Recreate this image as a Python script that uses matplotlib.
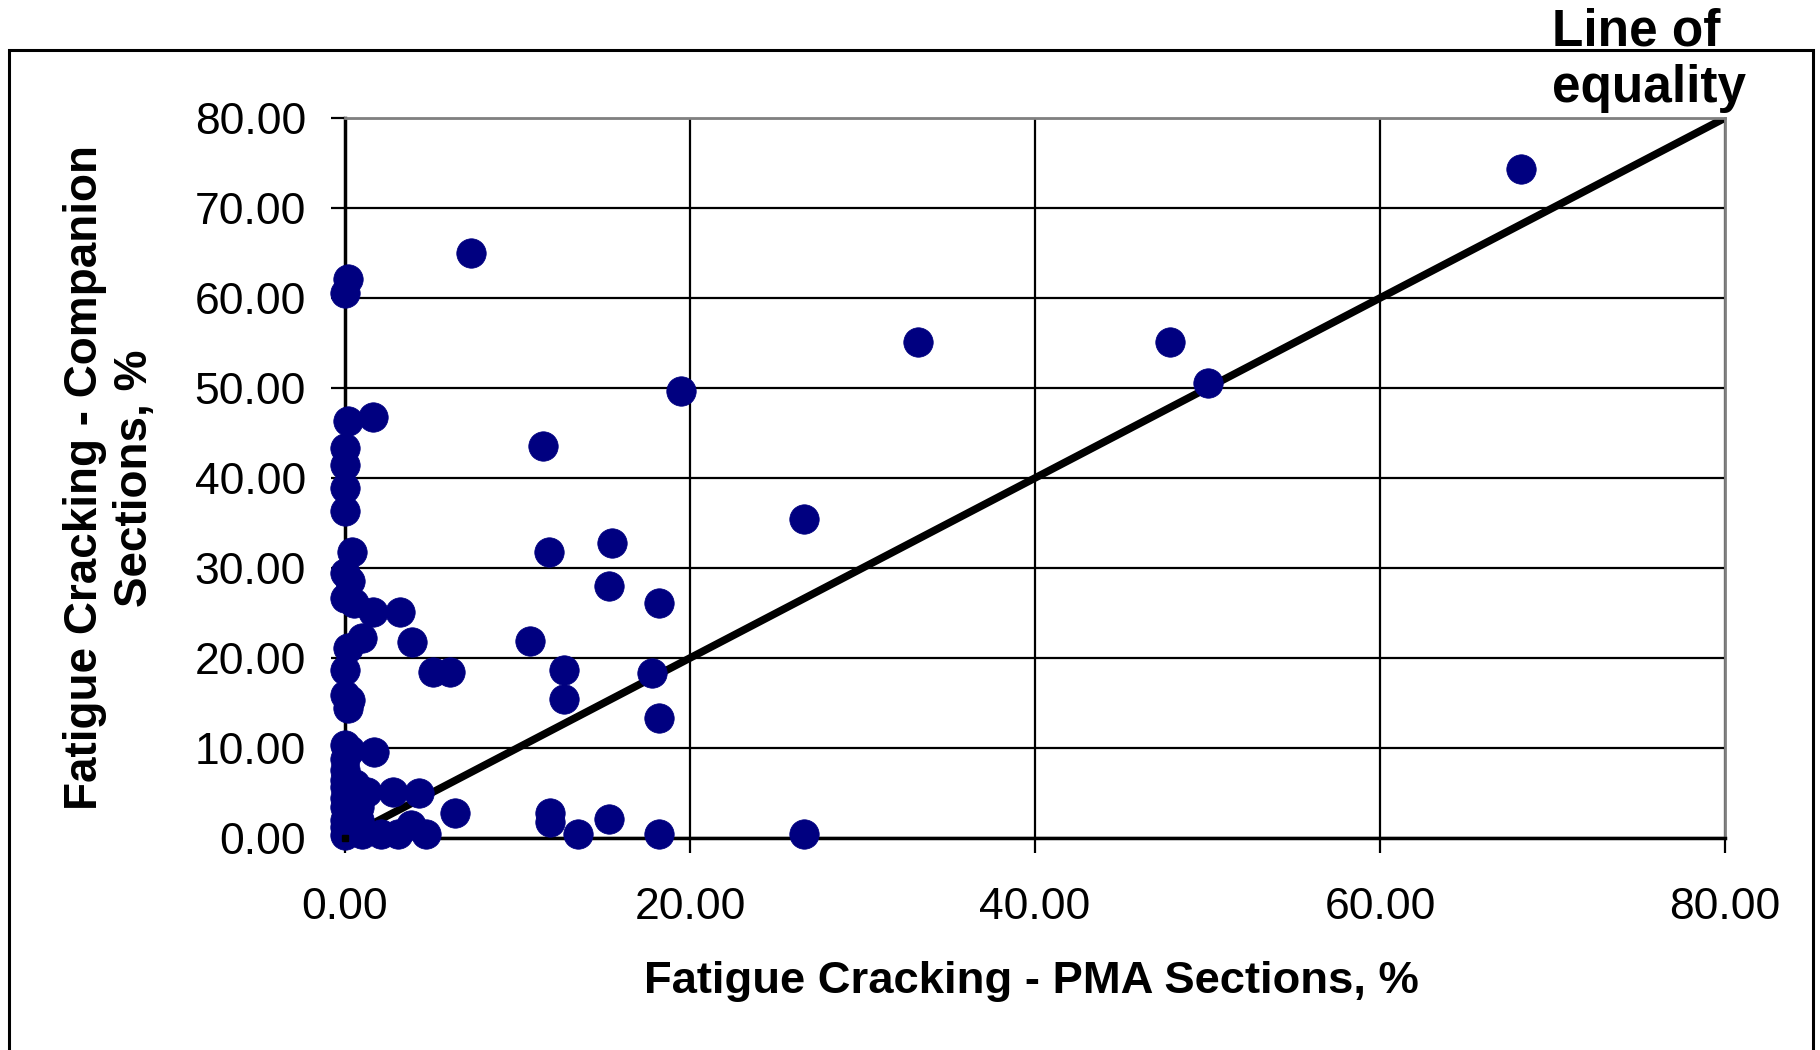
import matplotlib
matplotlib.use("Agg")
import matplotlib.pyplot as plt
from matplotlib.patches import Rectangle

plt.rcParams['font.family'] = ['Liberation Sans', 'DejaVu Sans']

pma = [68.2, 7.3, 0.2, 0.0, 33.2, 47.8, 50.0, 19.5, 1.6, 0.2, 11.5, 0.0, 0.0, 0.0, 0.0,
       26.6, 15.5, 0.4, 11.8, 0.0, 0.3, 15.3, 0.0, 0.5, 18.2, 1.6, 3.2, 1.0, 3.9, 10.7,
       0.2, 0.0, 5.1, 6.1, 12.7, 17.8, 0.0, 0.3, 0.2, 12.7, 18.2, 0.0, 1.7, 0.0, 0.0,
       0.0, 0.0, 1.3, 2.8, 4.3, 0.0, 0.0, 0.8, 0.0, 0.8, 0.0, 0.0, 1.0, 2.1, 3.1, 3.8,
       4.7, 6.4, 11.9, 11.9, 13.5, 15.3, 18.2, 26.6, 0.3, 0.6, 0.5]
companion = [74.3, 65.0, 62.1, 60.6, 55.1, 55.1, 50.6, 49.7, 46.8, 46.3, 43.6, 43.3, 41.4, 38.9, 36.3,
             35.4, 32.8, 31.8, 31.8, 29.4, 28.6, 28.0, 26.7, 26.1, 26.1, 25.1, 25.1, 22.2, 21.8, 21.9,
             21.1, 18.7, 18.4, 18.4, 18.7, 18.3, 15.9, 15.3, 14.5, 15.5, 13.3, 10.3, 9.6, 8.8, 7.6,
             6.5, 5.7, 5.1, 5.1, 5.0, 4.5, 3.5, 3.5, 2.0, 2.0, 1.2, 0.3, 0.5, 0.5, 0.5, 1.4,
             0.5, 2.8, 2.8, 1.8, 0.5, 2.1, 0.5, 0.5, 9.8, 6.0, 4.0]
equality_x = [0, 80]
equality_y = [0, 80]
ticks = [0, 20, 40, 60, 80]
yticks = [0, 10, 20, 30, 40, 50, 60, 70, 80]

W, H = 1820, 1050
fig = plt.figure(figsize=(W / 100, H / 100), dpi=100)
fig.patch.set_facecolor('white')

# outer frame
fig.patches.append(Rectangle((9 / W, -0.05), (1813 - 9) / W, 1 - 50 / H + 0.05,
                             transform=fig.transFigure, fill=False, edgecolor='black',
                             linewidth=2.2, zorder=0))

ax = fig.add_axes([345 / W, 1 - 838 / H, (1725 - 345) / W, (838 - 118) / H])
ax.set_xlim(0, 80)
ax.set_ylim(0, 80)

ax.grid(True, color='black', linewidth=1.6, zorder=1)
ax.set_axisbelow(True)

ax.plot(equality_x, equality_y, color='black', linewidth=5.5, zorder=2, solid_capstyle='butt')
ax.scatter(pma, companion, s=450, color='#000080', edgecolors='#000080', linewidths=0.5,
           zorder=3, clip_on=False)
ax.plot(equality_x[:1], equality_y[:1], marker='s', markersize=5, color='black',
        linestyle='none', zorder=4, clip_on=False)

ax.set_xticks(ticks)
ax.set_yticks(yticks)
ax.set_xticklabels([f"{t:.2f}" for t in ticks])
ax.set_yticklabels([f"{t:.2f}" for t in yticks])
ax.tick_params(axis='x', length=11, width=1.6, pad=24, labelsize=32, colors='black')
ax.tick_params(axis='y', length=10, width=1.6, pad=18, labelsize=32, colors='black')

for side in ['top', 'right']:
    ax.spines[side].set_color('#808080')
    ax.spines[side].set_linewidth(2)
ax.spines['left'].set_color('black')
ax.spines['left'].set_linewidth(2.5)
ax.spines['bottom'].set_color('black')
ax.spines['bottom'].set_linewidth(2.5)

fig.text(1031 / W, 1 - 981 / H, 'Fatigue Cracking - PMA Sections, %', ha='center', va='center',
         fontsize=32.7, fontweight='bold')
fig.text(110 / W, 1 - 478 / H, 'Fatigue Cracking - Companion\nSections, %', ha='center',
         va='center', rotation=90, fontsize=33, fontweight='bold', multialignment='center',
         linespacing=1.2)
fig.text(1552 / W, 1 - 60 / H, 'Line of\nequality', ha='left', va='center',
         fontsize=37, fontweight='bold', linespacing=1.2)

fig.savefig('out.png', dpi=100, facecolor='white')
